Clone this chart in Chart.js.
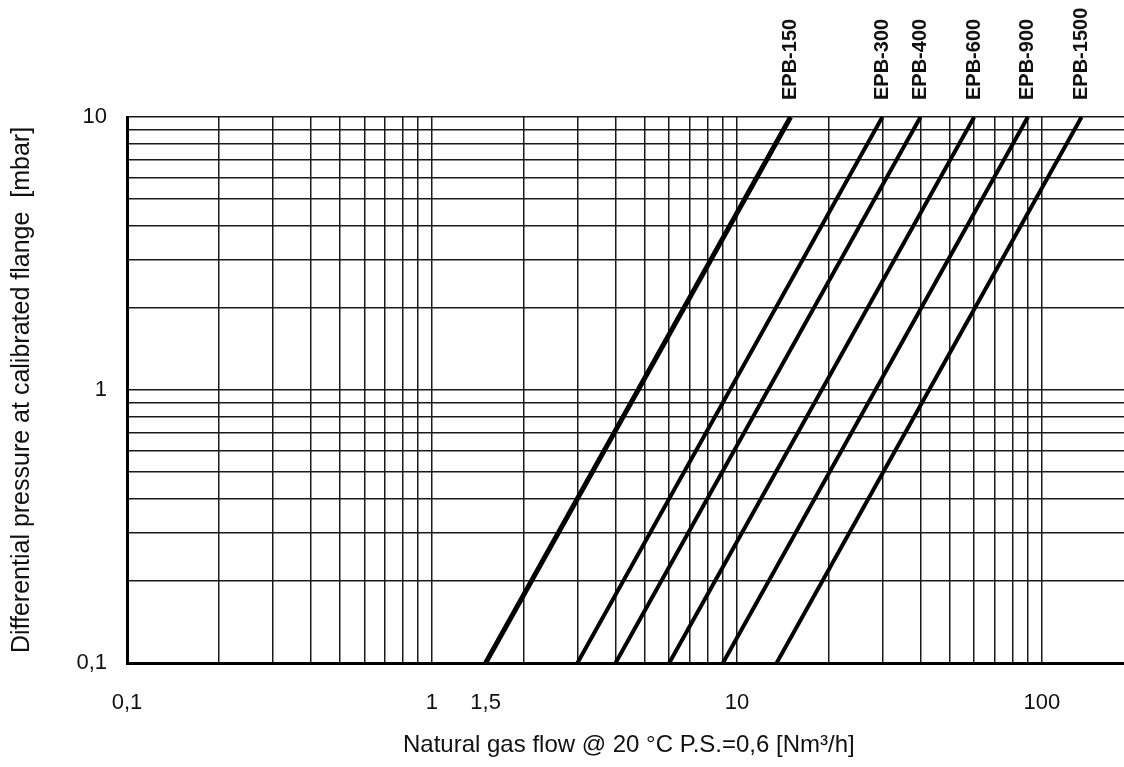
<!DOCTYPE html>
<html lang="en">
<head>
    <meta charset="UTF-8">
    <title>EPB flow chart</title>
    <script src="https://cdn.jsdelivr.net/npm/chart.js"></script>
    <style>
        html, body {
            margin: 0;
            padding: 0;
            background: #fff;
        }
        #wrap {
            width: 1124px;
            height: 767px;
        }
    </style>
</head>
<body>
    <div id="wrap">
        <canvas id="chart"></canvas>
    </div>
    <script>
        // flow [Nm3/h] at 0,1 mbar and at 10 mbar for each flange
        var seriesNames = ['EPB-150', 'EPB-300', 'EPB-400', 'EPB-600', 'EPB-900', 'EPB-1500'];
        var flowLow  = [1.5, 3, 4, 6, 9, 13.5];
        var flowHigh = [15, 30, 40, 60, 90, 135];
        var pressureLow = 0.1;
        var pressureHigh = 10;
        var lineWidths = [5, 4, 4, 4, 4, 4];

        var xTickValues = [0.1, 1, 1.5, 10, 100];
        var xTickLabels = ['0,1', '1', '1,5', '10', '100'];
        var yTickValues = [0.1, 1, 10];
        var yTickLabels = ['0,1', '1', '10'];

        var xGrid = [0.1, 0.2, 0.3, 0.4, 0.5, 0.6, 0.7, 0.8, 0.9,
                     1, 1.5, 2, 3, 4, 5, 6, 7, 8, 9,
                     10, 20, 30, 40, 50, 60, 70, 80, 90, 100];
        var yGrid = [0.1, 0.2, 0.3, 0.4, 0.5, 0.6, 0.7, 0.8, 0.9,
                     1, 2, 3, 4, 5, 6, 7, 8, 9, 10];

        var FONT = '"Liberation Sans", Arial, sans-serif';

        var datasets = seriesNames.map(function (name, i) {
            return {
                label: name,
                data: [
                    { x: flowLow[i], y: pressureLow },
                    { x: flowHigh[i], y: pressureHigh }
                ],
                borderColor: '#000',
                borderWidth: lineWidths[i],
                pointRadius: 0,
                fill: false
            };
        });

        function tickLabel(values, labels) {
            return function (value) {
                var k = values.indexOf(value);
                return k >= 0 ? labels[k] : '';
            };
        }

        // names written upright above the top end of each line
        var topLabels = {
            id: 'topLabels',
            afterDatasetsDraw: function (chart) {
                var ctx = chart.ctx;
                var xs = chart.scales.x;
                ctx.save();
                ctx.font = 'bold 20px ' + FONT;
                ctx.fillStyle = '#111';
                ctx.textAlign = 'left';
                ctx.textBaseline = 'middle';
                chart.data.datasets.forEach(function (ds) {
                    var last = ds.data[ds.data.length - 1];
                    var px = xs.getPixelForValue(last.x);
                    ctx.save();
                    ctx.translate(px, 100);
                    ctx.rotate(-Math.PI / 2);
                    ctx.fillText(ds.label, 0, 0);
                    ctx.restore();
                });
                ctx.restore();
            }
        };

        var ctx = document.getElementById('chart').getContext('2d');
        var chart = new Chart(ctx, {
            type: 'line',
            data: { datasets: datasets },
            plugins: [topLabels],
            options: {
                responsive: true,
                maintainAspectRatio: false,
                animation: false,
                layout: { padding: { top: 117, right: 0, bottom: 0, left: 0 } },
                plugins: {
                    legend: { display: false },
                    tooltip: { enabled: false }
                },
                scales: {
                    x: {
                        type: 'logarithmic',
                        min: 0.1,
                        max: 186,
                        afterBuildTicks: function (scale) {
                            scale.ticks = xGrid.map(function (v) { return { value: v }; });
                        },
                        afterFit: function (scale) { scale.height = 104; },
                        grid: {
                            drawTicks: false,
                            lineWidth: 1.5,
                            color: function (c) {
                                return (c.tick && c.tick.value === 1.5) ? 'rgba(0,0,0,0)' : '#1a1a1a';
                            }
                        },
                        border: { display: true, color: '#000', width: 3 },
                        ticks: {
                            autoSkip: false,
                            maxRotation: 0,
                            padding: 27,
                            color: '#111',
                            font: { family: FONT, size: 22 },
                            callback: tickLabel(xTickValues, xTickLabels)
                        },
                        title: {
                            display: true,
                            text: ' Natural gas flow @ 20 °C P.S.=0,6 [Nm³/h]',
                            color: '#111',
                            font: { family: FONT, size: 24 },
                            padding: { top: 0, bottom: 7 }
                        }
                    },
                    y: {
                        type: 'logarithmic',
                        min: 0.1,
                        max: 10,
                        afterBuildTicks: function (scale) {
                            scale.ticks = yGrid.map(function (v) { return { value: v }; });
                        },
                        afterFit: function (scale) { scale.width = 127; },
                        grid: {
                            drawTicks: false,
                            lineWidth: 1.5,
                            color: '#1a1a1a'
                        },
                        border: { display: true, color: '#000', width: 3 },
                        ticks: {
                            autoSkip: false,
                            padding: 20,
                            color: '#111',
                            font: { family: FONT, size: 22 },
                            callback: tickLabel(yTickValues, yTickLabels)
                        },
                        title: {
                            display: true,
                            text: 'Differential pressure at calibrated flange  [mbar]',
                            color: '#111',
                            font: { family: FONT, size: 25 },
                            padding: { top: 7, bottom: 0 }
                        }
                    }
                }
            }
        });
    </script>
</body>
</html>
